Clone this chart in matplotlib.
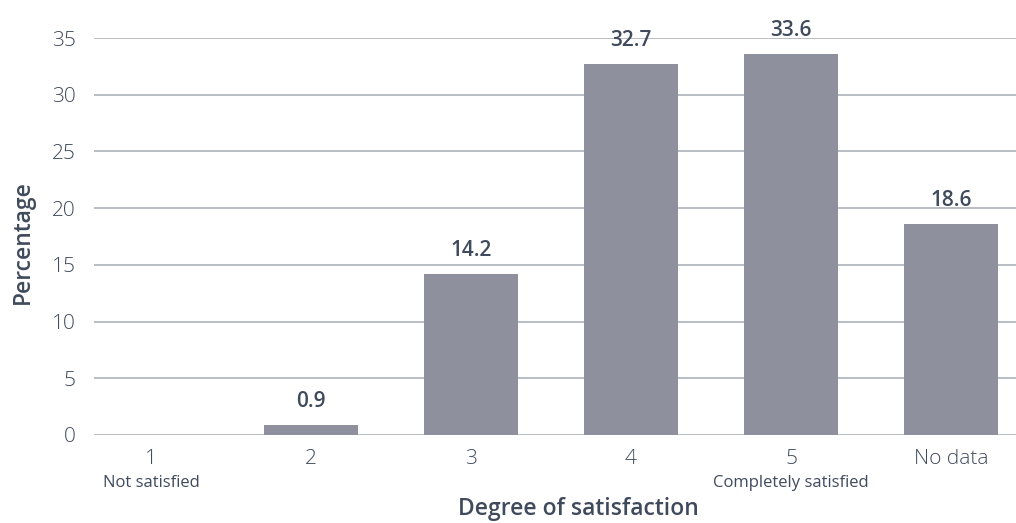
import matplotlib
matplotlib.use("Agg")
import matplotlib.pyplot as plt
import matplotlib.transforms as mtransforms

categories = ["1", "2", "3", "4", "5", "No data"]
subtitles = ["Not satisfied", "", "", "", "Completely satisfied", ""]
values = [0.0, 0.9, 14.2, 32.7, 33.6, 18.6]
value_labels = ["", "0.9", "14.2", "32.7", "33.6", "18.6"]
yticks = [0, 5, 10, 15, 20, 25, 30, 35]

TEXT = "#3f4a5c"
BAR = "#8e909d"
GRID = "#b4b6bf"
FONT = ["Open Sans", "DejaVu Sans"]

plt.rcParams["font.family"] = FONT

fig = plt.figure(figsize=(10.16, 5.23), dpi=100)
W, H = 1016, 523
ax = fig.add_axes([94 / W, (H - 435) / H, (1016 - 94) / W, (435 - 38) / H])

x = list(range(len(categories)))
ax.set_axisbelow(True)
ax.bar(x, values, width=0.59, color=BAR, zorder=2)

ax.set_ylim(0, 35)
ax.set_xlim(-0.356, 5.406)
ax.set_yticks(yticks)
ax.set_yticklabels([str(t) for t in yticks], fontsize=15, color=TEXT, fontweight="light")
ax.set_xticks(x)
ax.set_xticklabels(categories, fontsize=15, color=TEXT, fontweight="light")
ax.tick_params(axis="both", length=0)
ax.tick_params(axis="y", pad=13)
ax.tick_params(axis="x", pad=10)

for s in ax.spines.values():
    s.set_visible(False)
ax.grid(axis="y", color=GRID, linewidth=1.3, zorder=0)

for xi, v, lab in zip(x, values, value_labels):
    if lab:
        ax.annotate(lab, (xi, v), xytext=(0, 13), textcoords="offset points",
                    ha="center", va="baseline", fontsize=15, fontweight="semibold",
                    color=TEXT, zorder=5)

trans = mtransforms.blended_transform_factory(ax.transData, fig.transFigure)
for xi, sub in zip(x, subtitles):
    if sub:
        ax.text(xi, 1 - 483 / H, sub, transform=trans, ha="center", va="center",
                fontsize=12, color=TEXT)

fig.text(578 / W, 1 - 509 / H, "Degree of satisfaction", ha="center", va="center",
         fontsize=16.5, fontweight="semibold", color=TEXT)
fig.text(23 / W, 1 - 242 / H, "Percentage", ha="center", va="center", rotation=90,
         fontsize=16.5, fontweight="semibold", color=TEXT)

fig.savefig("out.png", dpi=100, facecolor="white")
